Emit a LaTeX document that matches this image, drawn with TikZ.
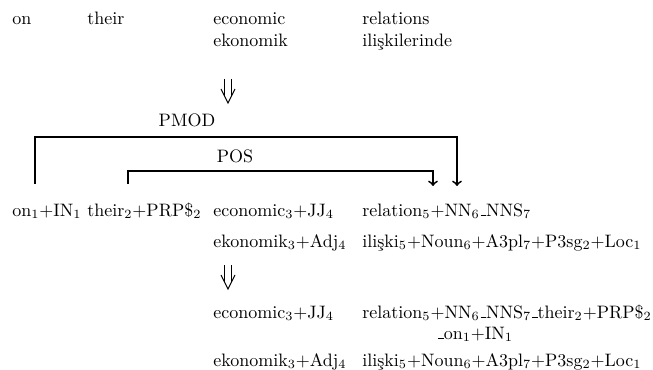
\documentclass[tikz,border=0pt]{standalone}
\usepackage{amsmath, amssymb}
\usepackage{tikz}
\usetikzlibrary{positioning}

% short low bar joining merged tokens
\newcommand{\tokbar}{\leavevmode\kern.06em\vbox{\hrule width.3em}}

\begin{document}
\begin{tikzpicture}[>=to, x=0.5556pt, y=-0.5556pt]
    \tikzset{
        word/.style={anchor=base west, inner sep=0pt},
        lbl/.style={anchor=base, inner sep=0pt},
        stepline/.style={line width=0.6pt, line join=miter},
        bracket/.style={line width=1pt}
    }
    \useasboundingbox (0,0) rectangle (653,369);

    % =================================================================
    % 1. SOURCE WORDS AND THEIR TRANSLATION
    % =================================================================
    \node[word] (on) at (12,25) {on};
    \node[word] (their) at (87,25) {their};
    \node[word] (econ) at (213,25) {economic};
    \node[word] (rel) at (362,25) {relations};
    \node[word] (ekon) at (213,47) {ekonomik};
    \node[word] (ilis) at (362,47) {ilişkilerinde};

    % top ends of the two step arrows
    \coordinate (stepA) at (228,79);
    \coordinate (stepB) at (228,265);

    % =================================================================
    % 2. TAGGED WORDS WITH DEPENDENCY ARCS
    % =================================================================
    \node[word] (onT) at (12,216) {on$_1$+IN$_1$};
    \node[word] (theirT) at (87,216) {their$_2$+PRP\$$_2$};
    \node[word] (econT) at (213,216) {economic$_3$+JJ$_4$};
    \node[word] (relT) at (362,216) {relation$_5$+NN$_6$\tokbar NNS$_7$};
    \node[word] (ekonT) at (213,247) {ekonomik$_3$+Adj$_4$};
    \node[word] (ilisT) at (362,247) {ilişki$_5$+Noun$_6$+A3pl$_7$+P3sg$_2$+Loc$_1$};

    % end points of the arcs
    \coordinate (pmodFoot) at (35,184);
    \coordinate (pmodTop) at (35,137);
    \coordinate (pmodHead) at (457,186);
    \coordinate (posFoot) at (128,184);
    \coordinate (posTop) at (128,171);
    \coordinate (posHead) at (433,186);

    \draw[bracket, ->] (pmodFoot) -- (pmodTop) -| (pmodHead);
    \draw[bracket, ->] (posFoot) -- (posTop) -| (posHead);

    \node[lbl] (pmod) at (187,127) {PMOD};
    \node[lbl] (pos) at (235,162) {POS};

    % =================================================================
    % 3. MERGED TOKENS
    % =================================================================
    \node[word] (econM) at (213,318) {economic$_3$+JJ$_4$};
    \node[word] (relM) at (362,318) {relation$_5$+NN$_6$\tokbar NNS$_7$\tokbar their$_2$+PRP\$$_2$};
    \node[word] (onM) at (437,339) {\tokbar on$_1$+IN$_1$};
    \node[word] (ekonM) at (213,366) {ekonomik$_3$+Adj$_4$};
    \node[word] (ilisM) at (362,366) {ilişki$_5$+Noun$_6$+A3pl$_7$+P3sg$_2$+Loc$_1$};

    % =================================================================
    % 4. DOUBLE DOWN ARROWS BETWEEN THE STEPS
    % =================================================================
    \foreach \s in {stepA, stepB} {
        \draw[stepline] (\s) ++(-3.5,0) -- ++(0,17);
        \draw[stepline] (\s) ++(3.5,0) -- ++(0,17);
        \draw[stepline] (\s) ++(-7,10) -- ++(7,14) -- ++(7,-14);
    }

\end{tikzpicture}
\end{document}
